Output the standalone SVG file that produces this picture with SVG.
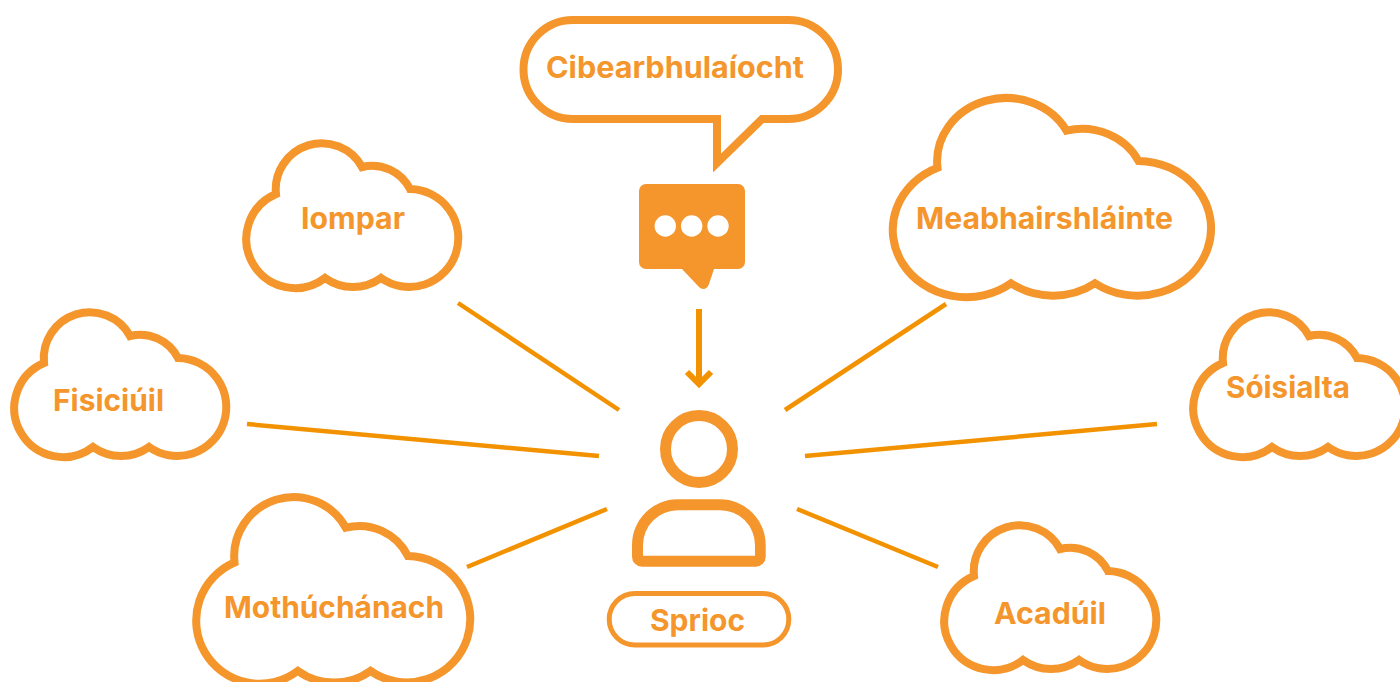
<svg xmlns="http://www.w3.org/2000/svg" width="1400" height="682" viewBox="0 0 1400 682">
<style>
.o{fill:none;stroke:#f4962c;stroke-width:8;stroke-miterlimit:10}
.f{fill:#f4962c}
.l{fill:none;stroke:#f39200;stroke-width:4.5}
.a{fill:none;stroke:#f39200;stroke-width:6;stroke-miterlimit:10}
text{font-family:"Inter","Liberation Sans",sans-serif;font-weight:700;font-size:30px;fill:#f4962c}
</style>
<defs>
<path id="cloud" d="M29 50A46 46 0 0 1 115 23A42 42 0 0 1 163 45A49 49 0 1 1 134 134A48 48 0 0 1 78 134A49 49 0 1 1 29 50Z"/>
</defs>
<rect width="1400" height="682" fill="#fff"/>
<g id="connectors">
<path class="l" d="M458 303L619 410"/>
<path class="l" d="M946 304L785 410"/>
<path class="l" d="M247 424L599 456"/>
<path class="l" d="M1157 424L805 456"/>
<path class="l" d="M467 567L607 509"/>
<path class="l" d="M938 567L797 509"/>
<path class="a" d="M699 309V384M687 372L699 384L711 372"/>
</g>
<g id="node-cibearbhulaiocht">
<path class="o" d="M573 20H788.5A49.5 49.5 0 0 1 788.5 119H762L717 163V119H573A49.5 49.5 0 0 1 573 20Z"/>
<text x="546" y="78" textLength="258" lengthAdjust="spacingAndGlyphs">Cibearbhulaíocht</text>
</g>
<g id="node-chat-icon">
<path class="f" d="M646 184H738A7 7 0 0 1 745 191V262A7 7 0 0 1 738 269H714L709 284C707 290 702 290 699 287L682 269H646A7 7 0 0 1 639 262V191A7 7 0 0 1 646 184Z"/>
<circle cx="665.3" cy="226" r="10.7" fill="#fff"/>
<circle cx="691.7" cy="226" r="10.7" fill="#fff"/>
<circle cx="718" cy="226" r="10.7" fill="#fff"/>
</g>
<g id="node-iompar">
<use href="#cloud" class="o" transform="translate(247 144)"/>
<text x="301" y="229" textLength="104" lengthAdjust="spacingAndGlyphs">Iompar</text>
</g>
<g id="node-fisiciuil">
<use href="#cloud" class="o" transform="translate(15 313)"/>
<text x="53" y="411" textLength="111" lengthAdjust="spacingAndGlyphs">Fisiciúil</text>
</g>
<g id="node-mothuchanach">
<path class="o" d="M234.5 562.5A59.5 59.3 0 0 1 345.8 527.7A54.3 54.2 0 0 1 407.9 556A63.4 63.2 0 1 1 370.4 670.9A62.1 61.9 0 0 1 297.9 670.9A63.4 63.2 0 1 1 234.5 562.5Z"/>
<text x="224" y="618" textLength="220" lengthAdjust="spacingAndGlyphs">Mothúchánach</text>
</g>
<g id="node-meabhairshlainte">
<path class="o" d="M937.5 167.75A69 63.25 0 0 1 1066.5 130.6A63 57.75 0 0 1 1138.5 160.9A73.5 67.4 0 1 1 1095 283.25A72 66 0 0 1 1011 283.25A73.5 67.4 0 1 1 937.5 167.75Z"/>
<text x="916" y="229" textLength="257" lengthAdjust="spacingAndGlyphs">Meabhairshláinte</text>
</g>
<g id="node-soisialta">
<use href="#cloud" class="o" transform="translate(1194 313)"/>
<text x="1226" y="398" textLength="124" lengthAdjust="spacingAndGlyphs">Sóisialta</text>
</g>
<g id="node-acaduil">
<use href="#cloud" class="o" transform="translate(945 526)"/>
<text x="994" y="624" textLength="112" lengthAdjust="spacingAndGlyphs">Acadúil</text>
</g>
<g id="node-sprioc">
<circle cx="699" cy="449" r="33.5" fill="none" stroke="#f4962c" stroke-width="11"/>
<path class="f" fill-rule="evenodd" d="M642 566.7A10 10 0 0 1 632 556.7V545A45.7 45.7 0 0 1 677.7 499.3H720A45.7 45.7 0 0 1 765.7 545V556.7A10 10 0 0 1 755.7 566.7ZM643 555.7H755V545A34.7 34.7 0 0 0 720 510.3H677.7A34.7 34.7 0 0 0 643 545Z"/>
<rect x="609.2" y="593.5" width="179.6" height="51.5" rx="25.7" fill="none" stroke="#f4962c" stroke-width="5"/>
<text x="650" y="631" textLength="95" lengthAdjust="spacingAndGlyphs">Sprioc</text>
</g>
</svg>
